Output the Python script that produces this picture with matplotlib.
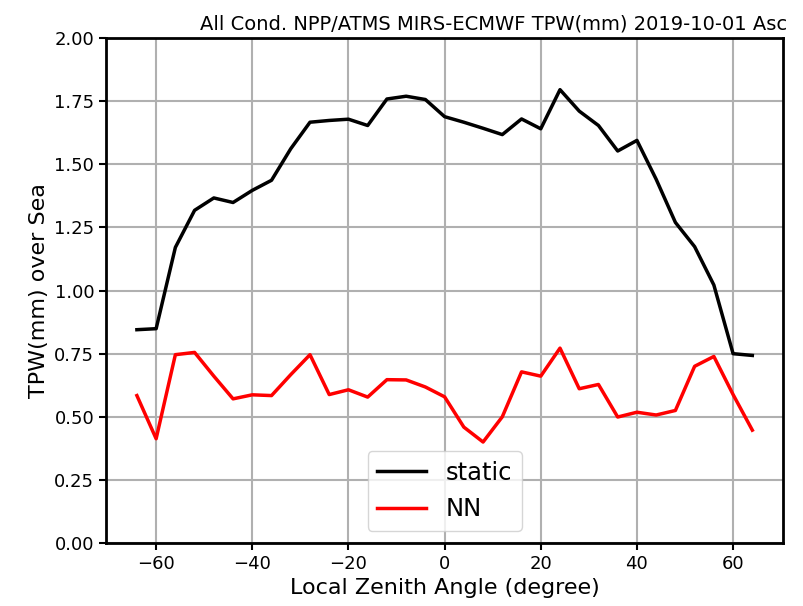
import numpy as np
import matplotlib
matplotlib.use("Agg")
import matplotlib.pyplot as plt
from matplotlib import font_manager

# Local zenith angle bins (degree)
angle = np.arange(-64, 65, 4)

# TPW (mm) over sea, MIRS minus ECMWF
tpw_static = [0.845, 0.849, 1.171, 1.318, 1.367, 1.349, 1.397, 1.437, 1.562,
              1.667, 1.674, 1.679, 1.654, 1.759, 1.770, 1.757, 1.689, 1.667,
              1.643, 1.618, 1.680, 1.641, 1.796, 1.711, 1.654, 1.553, 1.595,
              1.441, 1.270, 1.174, 1.022, 0.750, 0.743]
tpw_nn = [0.584, 0.413, 0.746, 0.755, 0.661, 0.571, 0.587, 0.584, 0.667,
          0.746, 0.588, 0.607, 0.578, 0.647, 0.646, 0.618, 0.579, 0.459,
          0.400, 0.500, 0.678, 0.661, 0.772, 0.611, 0.628, 0.499, 0.518,
          0.507, 0.525, 0.700, 0.739, 0.588, 0.447]

names = {f.name for f in font_manager.fontManager.ttflist}
title_font = "Liberation Sans Narrow" if "Liberation Sans Narrow" in names else "DejaVu Sans"
title_size = 17 if title_font == "Liberation Sans Narrow" else 14

fig = plt.figure(figsize=(8.04, 6.06), dpi=100)
ax = fig.add_axes([0.132, 0.104, 0.842, 0.833])

ax.plot(angle, tpw_static, color="black", linewidth=2.5, label="static")
ax.plot(angle, tpw_nn, color="red", linewidth=2.5, label="NN")

ax.set_ylim(0, 2.0)
ax.set_yticks(np.arange(0, 2.01, 0.25))
ax.set_xticks([-60, -40, -20, 0, 20, 40, 60])
ax.grid(True, color="#b0b0b0", linewidth=1.5)
ax.tick_params(labelsize=13, width=1.5, length=5)
for sp in ax.spines.values():
    sp.set_linewidth(2)

ax.set_xlabel("Local Zenith Angle (degree)", fontsize=16)
ax.set_ylabel("TPW(mm) over Sea", fontsize=16)
ax.set_title("All Cond. NPP/ATMS MIRS-ECMWF TPW(mm) 2019-10-01 Asc",
             fontsize=title_size, family=title_font, x=0.572)
ax.legend(loc="lower center", fontsize=17.5)

fig.savefig("out.png", dpi=100)
